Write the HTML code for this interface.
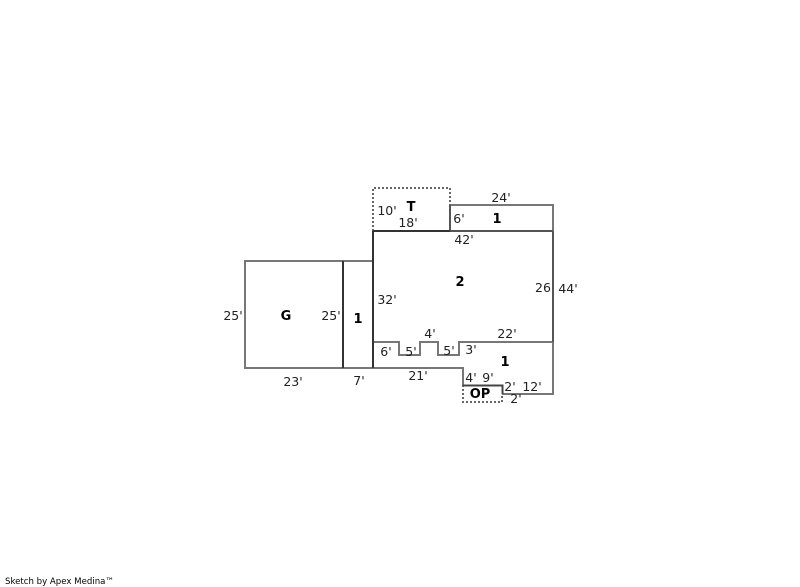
<!DOCTYPE html>
<html>
<head>
<meta charset="utf-8">
<style>
html,body{margin:0;padding:0;background:#fff;width:800px;height:587px;overflow:hidden}
svg{display:block}
text{font-family:"DejaVu Sans","Liberation Sans",sans-serif;font-size:12.5px;fill:#222}
.b{font-weight:bold;fill:#000;font-size:13px}
.g{stroke:#777;stroke-width:2;fill:none}
.d{stroke:#333;stroke-width:2;fill:none}
.t{stroke:#666;stroke-width:2;fill:none;stroke-dasharray:2 2}
</style>
</head>
<body>
<svg width="800" height="587" viewBox="0 0 800 587" shape-rendering="crispEdges">
<path class="g" d="M245 261H373M245 260V369M244 368H373"/>
<path class="g" d="M450 205H554M553 204V395M373 342H399V355H420V342H438V355H459V342H553"/>
<path class="g" d="M373 368H463V385M502 394H554"/>
<path class="t" d="M373 231V188H450V205"/>
<path class="t" d="M463 385V402H502V394"/>
<path class="g" d="M450 205V231" style="stroke:#555"/>
<path class="d" d="M343 261V368M373 231V368M373 231H450"/>
<path class="g" d="M450 231H553M553 231V342" style="stroke:#555"/>
<path class="d" d="M463 385.5H502.5V394" style="stroke:#444"/>
<g text-anchor="middle">
<text x="411" y="211" class="b">T</text>
<text x="497" y="223" class="b">1</text>
<text x="460" y="286" class="b">2</text>
<text x="286" y="320" class="b">G</text>
<text x="358" y="323" class="b">1</text>
<text x="505" y="366" class="b">1</text>
<text x="480" y="398" class="b">OP</text>
<text x="501" y="202">24'</text>
<text x="387" y="215">10'</text>
<text x="459" y="223">6'</text>
<text x="408" y="227">18'</text>
<text x="464" y="244">42'</text>
<text x="387" y="304">32'</text>
<text x="543" y="292">26</text>
<text x="568" y="293">44'</text>
<text x="233" y="320">25'</text>
<text x="331" y="320">25'</text>
<text x="430" y="338">4'</text>
<text x="507" y="338">22'</text>
<text x="386" y="356">6'</text>
<text x="411" y="356">5'</text>
<text x="449" y="355">5'</text>
<text x="471" y="354">3'</text>
<text x="293" y="386">23'</text>
<text x="359" y="385">7'</text>
<text x="418" y="380">21'</text>
<text x="471" y="382">4'</text>
<text x="488" y="382">9'</text>
<text x="510" y="391">2'</text>
<text x="532" y="391">12'</text>
<text x="516" y="403">2'</text>
</g>
<text x="5" y="584" textLength="109" lengthAdjust="spacingAndGlyphs" style="font-size:9px;fill:#000">Sketch by Apex Medina™</text>
</svg>
</body>
</html>
